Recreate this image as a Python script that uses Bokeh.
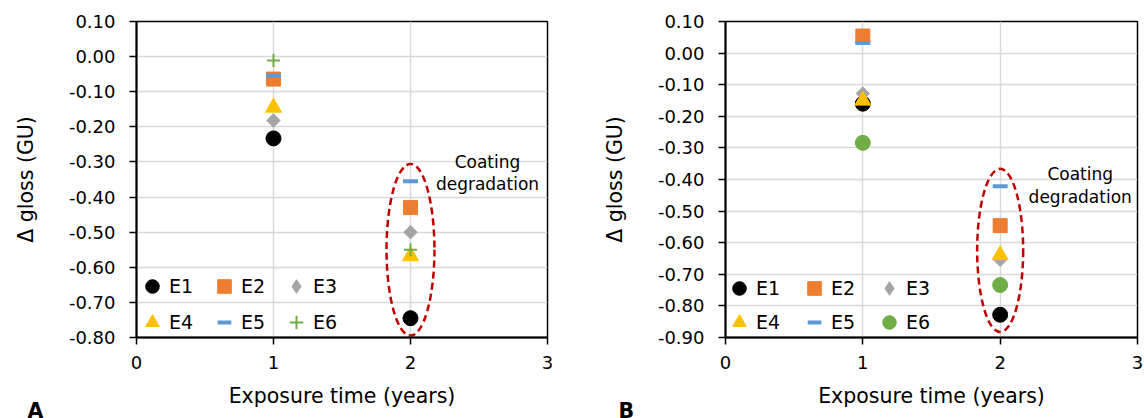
import numpy as np
from bokeh.plotting import figure
from bokeh.layouts import row
from bokeh.models import (Legend, LegendItem, Label, Title, FixedTicker,
                          NumeralTickFormatter, Range1d)
from bokeh.embed import file_html
from bokeh.resources import INLINE

# ---------------- data ----------------
years = [1, 2]
series = ["E1", "E2", "E3", "E4", "E5", "E6"]

a_E1 = [-0.233, -0.745]
a_E2 = [-0.064, -0.430]
a_E3 = [-0.182, -0.500]
a_E4 = [-0.145, -0.568]
a_E5 = [-0.054, -0.355]
a_E6 = [-0.011, -0.550]

b_E1 = [-0.160, -0.828]
b_E2 = [0.054, -0.546]
b_E3 = [-0.128, -0.654]
b_E4 = [-0.150, -0.639]
b_E5 = [0.032, -0.421]
b_E6 = [-0.284, -0.734]

x_ticks = [0, 1, 2, 3]
a_y_ticks = [round(v, 2) for v in np.arange(-0.8, 0.101, 0.1)]
b_y_ticks = [round(v, 2) for v in np.arange(-0.9, 0.101, 0.1)]

annotation_text = ["Coating", "degradation"]
panel_labels = ["A", "B"]

FONT = "DejaVu Sans"
GRID = "#D9D9D9"
COLORS = ["#000000", "#ED7D31", "#A5A5A5", "#FFC000", "#5B9BD5", "#70AD47"]

FRAME_TOP = 21
FRAME_H = 316
FIG_H = 418


def make_panel(data, yr, yticks, width, bl, fw, e6_style, leg_loc, leg_spacing, leg_lw,
               ann_x, ann_y, panel_label, plabel_px, ell_w):
    p = figure(width=width, height=FIG_H, output_backend="svg", toolbar_location=None,
               x_range=Range1d(0, 3), y_range=Range1d(*yr),
               min_border_left=bl, min_border_right=width - bl - fw,
               min_border_top=FRAME_TOP, min_border_bottom=FIG_H - FRAME_TOP - FRAME_H)
    p.background_fill_color = "white"
    p.border_fill_color = "white"
    p.outline_line_color = "black"
    p.outline_line_width = 1.5

    for ax in (p.xaxis[0], p.yaxis[0]):
        ax.axis_line_color = "black"
        ax.axis_line_width = 2
        ax.major_tick_line_color = "black"
        ax.major_tick_line_width = 1.5
        ax.major_tick_out = 7
        ax.major_tick_in = 0
        ax.minor_tick_line_color = None
        ax.major_label_text_font = FONT
        ax.major_label_text_font_size = "18px"
        ax.major_label_text_color = "#000000"
        ax.axis_label_text_font = FONT
        ax.axis_label_text_font_size = "20.5px"
        ax.axis_label_text_font_style = "normal"
        ax.axis_label_text_color = "#000000"

    p.xaxis.ticker = FixedTicker(ticks=x_ticks)
    p.yaxis.ticker = FixedTicker(ticks=yticks)
    p.yaxis.formatter = NumeralTickFormatter(format="0.00")
    p.xaxis.axis_label = "Exposure time (years)"
    p.yaxis.axis_label = "Δ gloss (GU)"
    p.xaxis.major_label_standoff = 11
    p.yaxis.major_label_standoff = 14
    p.xaxis.axis_label_standoff = 12
    p.yaxis.axis_label_standoff = 28

    p.xgrid.grid_line_color = GRID
    p.ygrid.grid_line_color = GRID
    p.xgrid.grid_line_width = 1.5
    p.ygrid.grid_line_width = 1.5

    # dashed ellipse around the year-2 values, derived from the data
    vals2 = [d[1] for d in data]
    lo, hi = min(vals2), max(vals2)
    pad = 0.055 * (yr[1] - yr[0])
    p.ellipse(x=[years[1]], y=[(lo + hi) / 2], width=ell_w, height=[hi - lo + 2 * pad],
              fill_color=None, line_color="#C00000", line_width=2.5, line_dash="7 4")

    E1, E2, E3, E4, E5, E6 = data
    c1, c2, c3, c4, c5, c6 = COLORS
    r1 = p.scatter(years, E1, marker="circle", size=15, fill_color=c1, line_color=c1)
    r2 = p.scatter(years, E2, marker="square", size=14, fill_color=c2, line_color=c2)
    r3 = p.scatter(years, E3, marker="square", angle=np.pi / 4, size=9.5, fill_color=c3, line_color=c3)
    r3_leg = p.scatter(years, E3, marker="diamond", size=15, fill_color=c3, line_color=c3, visible=False)
    r4 = p.scatter(years, E4, marker="triangle", size=16, fill_color=c4, line_color=c4)
    r5 = p.scatter(years, E5, marker="dash", size=15, line_color=c5, line_width=4)
    if e6_style == "cross":
        r6 = p.scatter(years, E6, marker="cross", size=13, line_color=c6, line_width=2)
    else:
        r6 = p.scatter(years, E6, marker="circle", size=15, fill_color=c6, line_color=c6)

    rends = dict(zip(series, [r1, r2, r3_leg, r4, r5, r6]))
    # legend filled column-first -> order so rows read E1 E2 E3 / E4 E5 E6
    order = ["E1", "E4", "E2", "E5", "E3", "E6"]
    items = [LegendItem(label=s, renderers=[rends[s]]) for s in order]
    leg = Legend(items=items, ncols=3, location=leg_loc,
                 background_fill_alpha=0, border_line_color=None,
                 inactive_fill_alpha=0,
                 label_text_font=FONT, label_text_font_size="19px", label_text_color="#000000",
                 glyph_width=34, glyph_height=34, label_height=24, label_width=leg_lw,
                 label_standoff=0, spacing=leg_spacing, padding=0, margin=0)
    p.add_layout(leg)

    for t, yy in zip(annotation_text, ann_y):
        p.add_layout(Label(x=ann_x, y=yy, text=t, text_align="center",
                           text_baseline="middle", text_font=FONT, text_font_size="17px",
                           text_color="#000000"))
    # panel letter below the plot, drawn as a zero-height title in the bottom panel
    p.add_layout(Title(text=panel_label, align="left", vertical_align="middle",
                       offset=plabel_px - bl, standoff=-39,
                       text_font=FONT, text_font_size="20.5px", text_font_style="bold",
                       text_color="#000000"), "below")
    return p


pA = make_panel([a_E1, a_E2, a_E3, a_E4, a_E5, a_E6], (-0.8, 0.1), a_y_ticks, 570, 136, 411,
                "cross", (-1, -2), 2, 36, 2.562, [-0.299, -0.362], panel_labels[0], 27, 0.35)
pB = make_panel([b_E1, b_E2, b_E3, b_E4, b_E5, b_E6], (-0.9, 0.1), b_y_ticks, 574, 155, 412,
                "circle", (-3, -2), -2, 41, 2.583, [-0.384, -0.454], panel_labels[1], 618 - 570, 0.335)

layout = row(pA, pB, spacing=0)
open("out.html", "w").write(file_html(layout, INLINE))
